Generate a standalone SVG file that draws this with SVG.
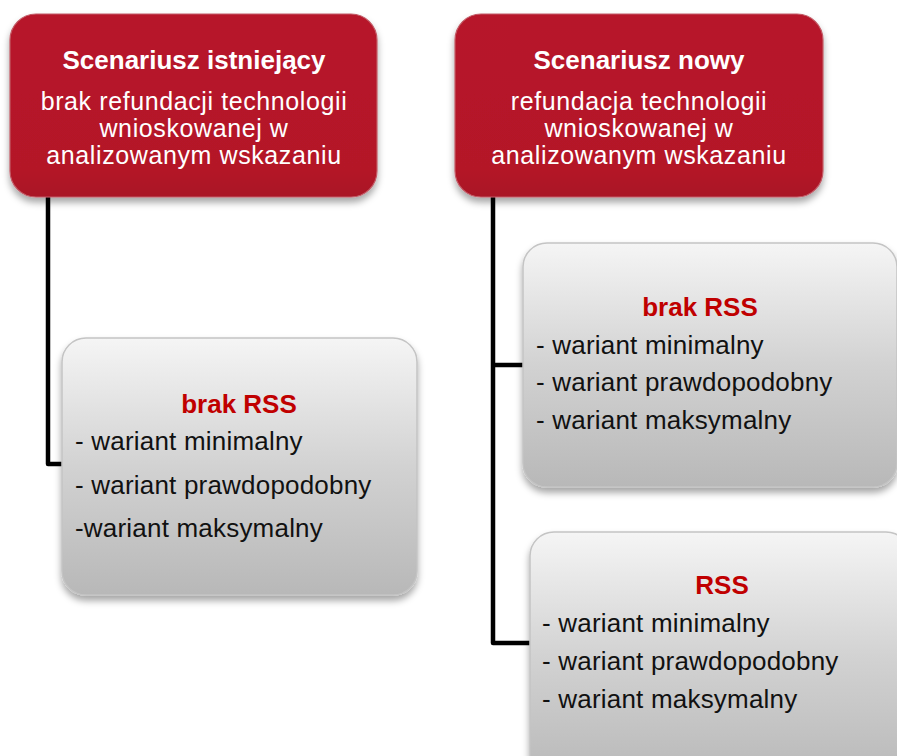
<svg xmlns="http://www.w3.org/2000/svg" width="897" height="756" viewBox="0 0 897 756">
<defs>
  <linearGradient id="gray" x1="0" y1="0" x2="0" y2="1">
    <stop offset="0" stop-color="#f5f5f5"/>
    <stop offset="0.5" stop-color="#d2d2d2"/>
    <stop offset="1" stop-color="#b8b8b8"/>
  </linearGradient>
  <linearGradient id="red" x1="0" y1="0" x2="0" y2="1">
    <stop offset="0" stop-color="#b7192a"/>
    <stop offset="0.85" stop-color="#b41828"/>
    <stop offset="1" stop-color="#a91626"/>
  </linearGradient>
  <filter id="shadow" x="-10%" y="-10%" width="125%" height="130%">
    <feDropShadow dx="0" dy="5" stdDeviation="3.5" flood-color="#000" flood-opacity="0.35"/>
  </filter>
</defs>
<style>
  .redbox { fill: url(#red); stroke: #c25a66; stroke-width: 1.2; filter: url(#shadow); }
  .graybox { fill: url(#gray); stroke: #c4c4c4; stroke-width: 1.5; filter: url(#shadow); }
  .title { font-family: "Liberation Sans", Arial, sans-serif; font-weight: bold; font-size: 26px; fill: #ffffff; text-anchor: middle; }
  .sub { font-family: "Liberation Sans", Arial, sans-serif; font-size: 25px; fill: #ffffff; text-anchor: middle; letter-spacing: 0.6px; }
  .head { font-family: "Liberation Sans", Arial, sans-serif; font-weight: bold; font-size: 26px; fill: #c00000; text-anchor: middle; }
  .item { font-family: "Liberation Sans", Arial, sans-serif; font-size: 26px; fill: #111111; letter-spacing: 0.2px; }
  .conn { fill: none; stroke: #000; stroke-width: 4.5; stroke-linejoin: round; }
</style>

<g id="connectors">
  <path class="conn" d="M48,196 V464 H64"/>
  <path class="conn" d="M493,196 V643 H531"/>
  <path class="conn" d="M493,365 H524"/>
</g>

<g id="node-existing">
  <rect class="redbox" x="10" y="14" width="367" height="183" rx="26" ry="26"/>
  <text class="title" x="194" y="69">Scenariusz istniejący</text>
  <text class="sub" x="194" y="110">brak refundacji technologii</text>
  <text class="sub" x="194" y="137">wnioskowanej w</text>
  <text class="sub" x="194" y="164">analizowanym wskazaniu</text>
</g>

<g id="node-new">
  <rect class="redbox" x="455" y="14" width="368" height="183" rx="26" ry="26"/>
  <text class="title" x="639" y="69">Scenariusz nowy</text>
  <text class="sub" x="639" y="110">refundacja technologii</text>
  <text class="sub" x="639" y="137">wnioskowanej w</text>
  <text class="sub" x="639" y="164">analizowanym wskazaniu</text>
</g>

<g id="node-existing-brak-rss">
  <rect class="graybox" x="62" y="338" width="355" height="257" rx="24" ry="24"/>
  <text class="head" x="239" y="413">brak RSS</text>
  <text class="item" x="75" y="450">- wariant minimalny</text>
  <text class="item" x="75" y="494">- wariant prawdopodobny</text>
  <text class="item" x="75" y="537">-wariant maksymalny</text>
</g>

<g id="node-new-brak-rss">
  <rect class="graybox" x="523" y="243" width="374" height="244" rx="24" ry="24"/>
  <text class="head" x="700" y="316">brak RSS</text>
  <text class="item" x="536" y="354">- wariant minimalny</text>
  <text class="item" x="536" y="391">- wariant prawdopodobny</text>
  <text class="item" x="536" y="429">- wariant maksymalny</text>
</g>

<g id="node-new-rss">
  <rect class="graybox" x="530" y="532" width="380" height="250" rx="24" ry="24"/>
  <text class="head" x="722" y="594">RSS</text>
  <text class="item" x="542" y="632">- wariant minimalny</text>
  <text class="item" x="542" y="670">- wariant prawdopodobny</text>
  <text class="item" x="542" y="708">- wariant maksymalny</text>
</g>
</svg>
